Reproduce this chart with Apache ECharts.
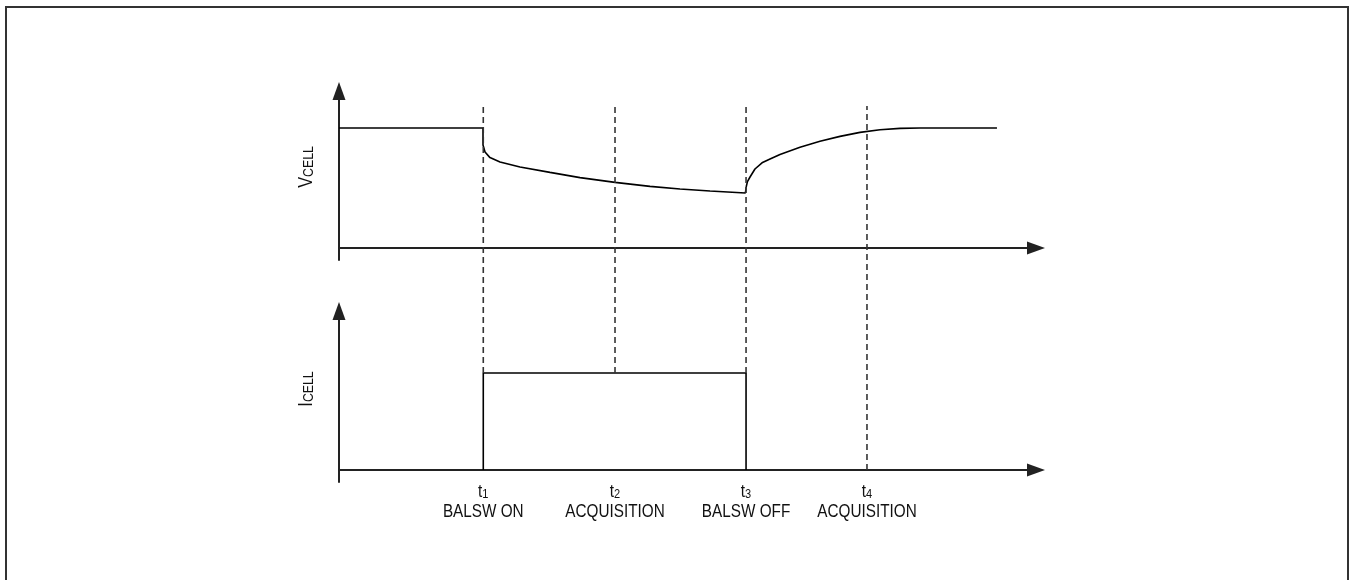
<!DOCTYPE html>
<html>
<head>
<meta charset="utf-8">
<script src="https://cdn.jsdelivr.net/npm/echarts@6/dist/echarts.min.js"></script>
<style>
  html, body { margin: 0; padding: 0; background: #fff; }
  #chart { width: 1351px; height: 580px; }
</style>
</head>
<body>
<div id="chart"></div>
<script>
// time axis runs 0..100 (arbitrary units)
var markerTimes = [20.7, 39.6, 58.4, 75.75];
var markerIdx = ["1", "2", "3", "4"];
var markerNames = ["BALSW ON", "ACQUISITION", "BALSW OFF", "ACQUISITION"];
var markerBottom = [1, 1, 1, 0]; // where each dashed line stops (in ICELL units)

// VCELL trace
var vTime = [0, 20.66, 20.66, 20.95, 21.66, 23.1, 25.97, 30.27, 34.58, 39.6, 44.62, 48.92, 53.23, 58.3,
             58.45, 58.6, 58.97, 59.68, 60.69, 61.84, 63.27, 66.14, 69.01, 71.88, 74.75, 77.62, 80.49, 83.36, 94.4];
var vCell = [3.0, 3.0, 2.575, 2.4, 2.26, 2.15, 2.025, 1.89, 1.76, 1.64, 1.54, 1.475, 1.425, 1.375,
             1.55, 1.66, 1.775, 1.975, 2.13, 2.225, 2.34, 2.52, 2.67, 2.79, 2.89, 2.955, 2.99, 3.0, 3.0];

// ICELL trace
var iTime = [20.7, 20.7, 58.4, 58.4];
var iCell = [0, 1, 1, 0];

var font = "'Liberation Sans', Arial, sans-serif";
var axisColor = "#222";

function zip(a, b) {
  return a.map(function (v, i) { return [v, b[i]]; });
}

function mkX(gi, show) {
  return {
    type: "value", gridIndex: gi, min: 0, max: 100, show: show,
    axisLine: {
      show: true, onZero: true, symbol: ["none", "triangle"], symbolSize: [13, 18],
      lineStyle: { color: axisColor, width: 2 }
    },
    axisTick: { show: false }, axisLabel: { show: false }, splitLine: { show: false }
  };
}
function mkY(gi, min, max, show) {
  return {
    type: "value", gridIndex: gi, min: min, max: max, show: show,
    axisLine: {
      show: true, onZero: true, symbol: ["none", "triangle"], symbolSize: [13, 18],
      lineStyle: { color: axisColor, width: 2 }
    },
    axisTick: { show: false }, axisLabel: { show: false }, splitLine: { show: false }
  };
}

function axisName(main) {
  return {
    text: "{v|" + main + "}{s|CELL}", align: "center", verticalAlign: "middle",
    rich: {
      v: { fontFamily: font, fontSize: 20, fill: "#111", verticalAlign: "bottom", lineHeight: 20 },
      s: { fontFamily: font, fontSize: 15, fill: "#111", verticalAlign: "bottom", lineHeight: 20 }
    }
  };
}

var dashSeries = markerTimes.map(function (t, i) {
  return {
    type: "line", xAxisIndex: 2, yAxisIndex: 2, symbol: "none", silent: true,
    data: [[t, markerBottom[i]], [t, 3.753]],
    lineStyle: { color: "#333", width: 1.6, type: [6, 4] }
  };
});

var myChart = echarts.init(document.getElementById("chart"));
myChart.setOption({
  backgroundColor: "#fff",
  animation: false,
  grid: [
    { left: 339, right: 315, top: 91, bottom: 320 },
    { left: 339, right: 315, top: 311, bottom: 98 },
    { left: 339, right: 315, top: 106, bottom: 110 }
  ],
  xAxis: [mkX(0, true), mkX(1, true), mkX(2, false)],
  yAxis: [mkY(0, -0.3, 3.925, true), mkY(1, -0.124, 1.639, true), mkY(2, 0, 3.753, false)],
  graphic: [
    {
      type: "rect", shape: { x: 6, y: 7, width: 1342, height: 600 },
      style: { fill: null, stroke: "#333", lineWidth: 2 }, silent: true
    },
    { type: "text", x: 306, y: 167, rotation: Math.PI / 2, scaleX: 0.82, style: axisName("V") },
    { type: "text", x: 306, y: 389, rotation: Math.PI / 2, scaleX: 0.82, style: axisName("I") }
  ],
  series: [
    {
      type: "line", xAxisIndex: 0, yAxisIndex: 0, symbol: "none", silent: true,
      data: zip(vTime, vCell),
      lineStyle: { color: "#000", width: 1.6 }
    },
    {
      type: "line", xAxisIndex: 1, yAxisIndex: 1, symbol: "none", silent: true,
      data: zip(iTime, iCell),
      lineStyle: { color: "#000", width: 1.6 }
    },
    {
      type: "custom", xAxisIndex: 1, yAxisIndex: 1, silent: true, clip: false,
      data: markerTimes.map(function (t, i) { return [t, i]; }),
      renderItem: function (params, api) {
        var i = api.value(1);
        var pt = api.coord([api.value(0), 0]);
        return {
          type: "text", x: pt[0], y: pt[1] + 9, scaleX: 0.85,
          style: {
            text: "{t|t}{s|" + markerIdx[i] + "}\n{n|" + markerNames[i] + "}",
            align: "center", verticalAlign: "top",
            rich: {
              t: { fontFamily: font, fontSize: 18, fill: "#111", lineHeight: 22, verticalAlign: "bottom" },
              s: { fontFamily: font, fontSize: 13, fill: "#111", lineHeight: 22, verticalAlign: "bottom" },
              n: { fontFamily: font, fontSize: 18, fill: "#111", lineHeight: 22 }
            }
          }
        };
      }
    }
  ].concat(dashSeries)
});
</script>
</body>
</html>
